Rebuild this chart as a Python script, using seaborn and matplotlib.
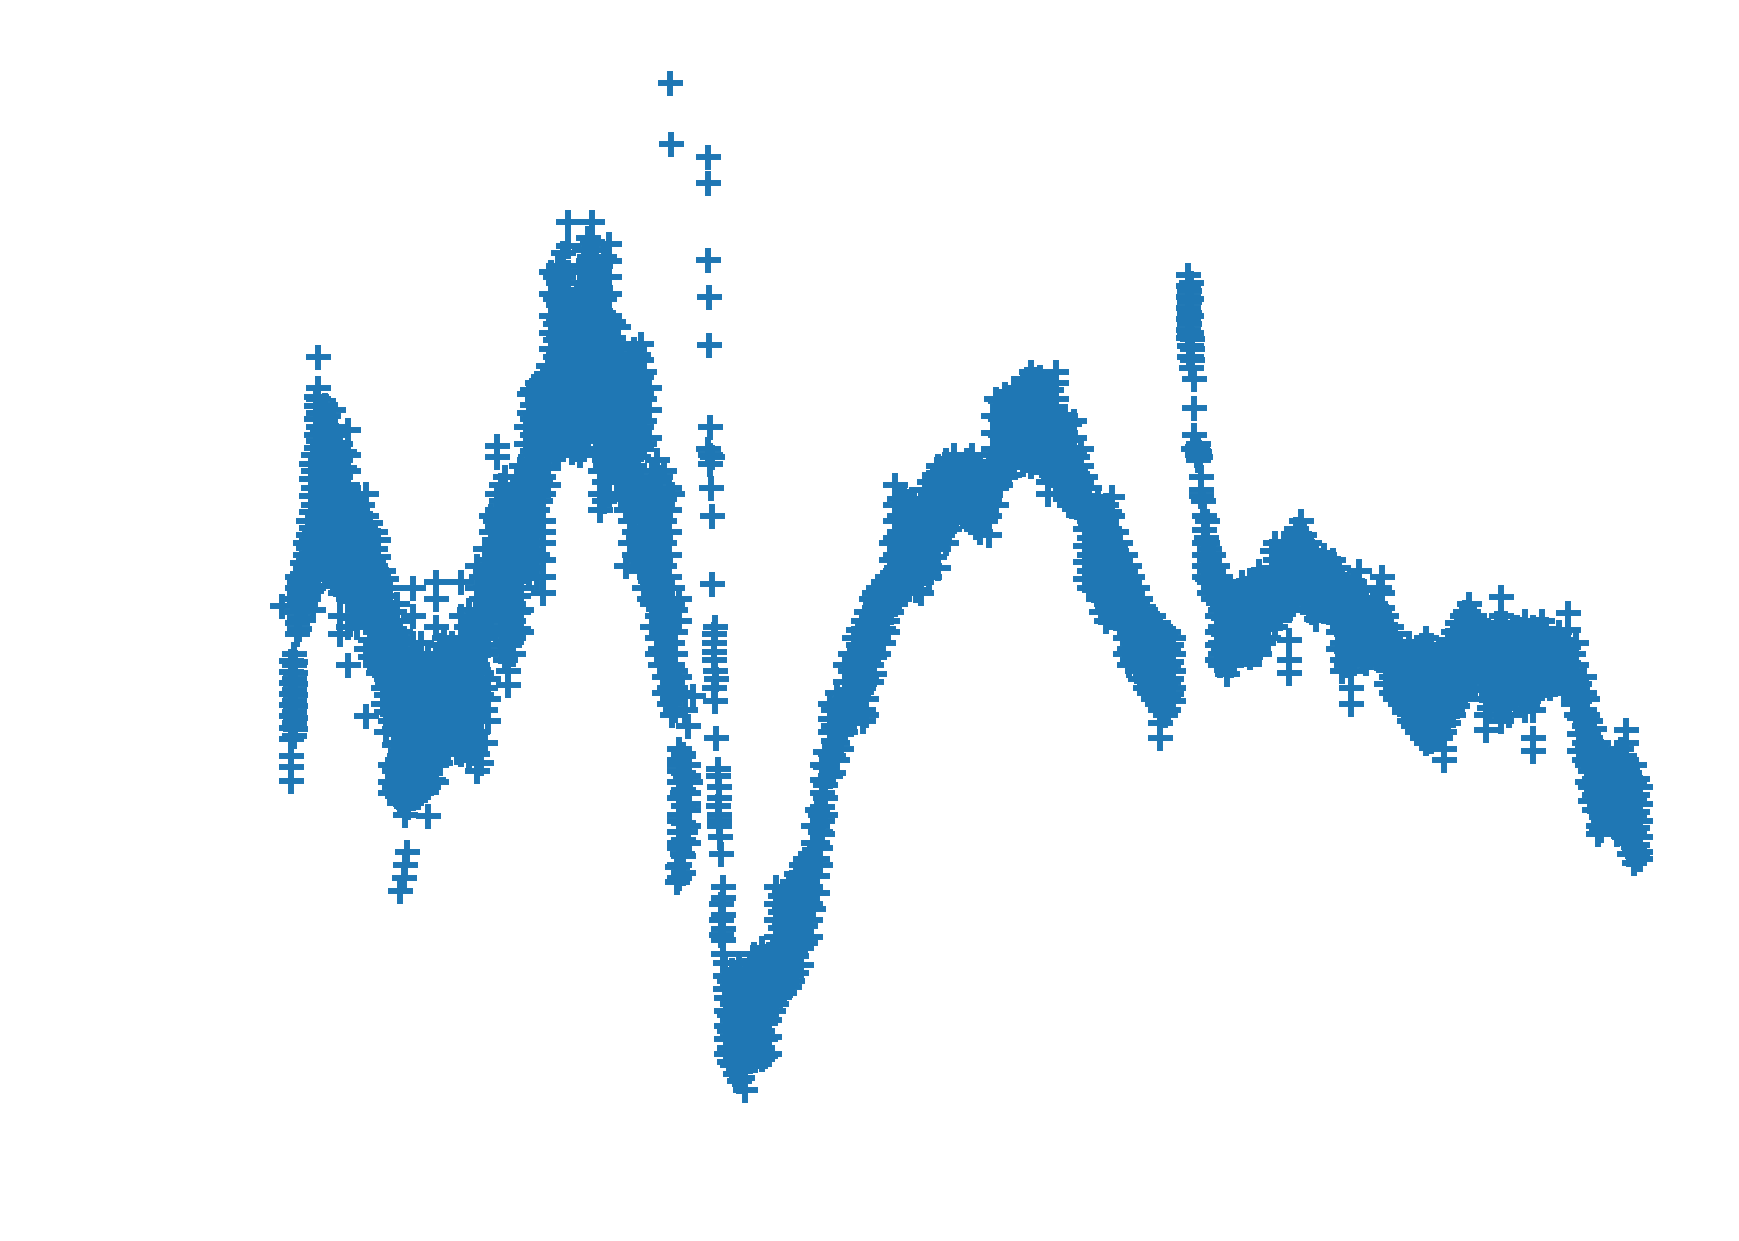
import pandas as pd
import seaborn as sns
from matplotlib import pyplot as plt

# readings, one y list per x position
top_x = [604, 605, 638, 638, 638, 639, 639, 640, 638, 640, 642, 640, 641, 642, 642, 645, 644, 644, 644, 645, 646, 647, 648, 648, 648, 648, 650]
top_y = [75, 130, 142, 165, 234, 268, 311, 385, 405, 410, 412, 418, 440, 465, 527, 565, 580, 595, 620, 632, 665, 700, 710, 720, 735, 745, 770]

drop_x = [618, 625, 620, 616, 612, 612, 618, 622, 615, 620, 612, 618, 612, 615, 610, 610, 367, 365, 364, 361, 254]
drop_y = [640, 628, 655, 680, 685, 695, 700, 705, 715, 725, 740, 750, 760, 770, 782, 795, 768, 780, 792, 803, 546]

left_x = [262, 265, 268, 272, 278, 282, 287, 293, 300, 307, 314, 322, 330, 338, 345]
left_y = [
    [596, 606, 616, 626, 636, 646, 656, 666, 682, 692, 704],
    [590, 600, 612, 622, 632, 642, 652, 664],
    [520, 530, 540, 552, 562, 572],
    [508, 518, 528, 538, 548],
    [470, 482, 494, 506, 516, 526, 540],
    [410, 425, 440, 455, 470, 485, 500, 515, 530, 550],
    [322, 350, 360, 372, 385, 398, 410, 425, 440, 455, 470, 485, 500, 515, 528],
    [365, 380, 395, 410, 425, 440, 455, 470, 485, 500, 515],
    [370, 385, 400, 415, 430, 445, 460, 475, 490, 505, 520],
    [400, 415, 430, 445, 460, 475, 490, 505, 520, 535, 555, 572],
    [388, 410, 425, 440, 455, 470, 485, 500, 520, 540, 565, 600],
    [445, 460, 475, 490, 505, 520, 535, 550, 565],
    [445, 465, 480, 495, 510, 525, 540, 560, 585, 646],
    [480, 495, 510, 525, 540, 555, 570, 585, 600],
    [515, 530, 545, 560, 575, 590, 605, 620, 635],
]
left2_x = [266, 270, 275, 280, 285, 290, 296, 303, 310, 318, 326, 334, 341, 348]
left2_y = [
    [597, 607, 617, 627, 637, 647, 657],
    [525, 535, 545, 557, 567],
    [490, 500, 512, 522, 532, 545],
    [418, 432, 447, 462, 476, 488, 500, 511, 521, 533],
    [358, 366, 378, 392, 404, 418, 432, 447, 462, 477, 492, 507, 522],
    [372, 388, 402, 417, 432, 447, 462, 477, 492, 507],
    [375, 392, 407, 422, 437, 452, 467, 482, 497, 512],
    [392, 407, 422, 437, 452, 467, 482, 497, 512, 527],
    [408, 422, 437, 452, 467, 482, 497, 512, 527],
    [452, 467, 482, 497, 512, 527, 542, 557],
    [455, 472, 487, 502, 517, 532, 550],
    [472, 487, 502, 517, 532, 547, 562, 577, 592],
    [487, 502, 517, 532, 547, 562, 577, 592, 607],
    [522, 537, 552, 567, 582, 597, 612, 627, 642, 660],
]

valley_x = [352, 358, 365, 372, 380, 386, 393, 400, 408, 416, 423, 430, 437]
valley_y = [
    [530, 545, 560, 575, 590, 605, 620, 635, 650, 690, 705, 715],
    [545, 560, 575, 590, 610, 625, 640, 655, 670, 685, 700, 718],
    [580, 595, 610, 625, 640, 655, 670, 685, 700, 715, 725, 735],
    [530, 555, 580, 600, 620, 640, 660, 675, 690, 705, 720],
    [580, 600, 620, 640, 655, 670, 685, 700, 715],
    [590, 610, 630, 650, 665, 680, 695, 710, 736],
    [525, 540, 565, 590, 610, 630, 650, 670, 690, 705],
    [575, 590, 610, 630, 650, 670, 675],
    [580, 595, 610, 625, 640, 655, 670],
    [525, 555, 575, 590, 605, 620, 635, 650, 665, 680],
    [550, 565, 580, 595, 610, 625, 640, 655, 670, 685],
    [510, 530, 550, 565, 580, 600, 620, 640, 660, 680, 695],
    [495, 515, 530, 545, 560, 575, 590, 620, 640, 670],
]
valley2_x = [355, 361, 368, 376, 383, 390, 397, 404, 412, 420, 427, 434, 440]
valley2_y = [
    [552, 567, 582, 597, 612, 627, 642, 657, 672, 695, 710],
    [570, 585, 600, 617, 632, 647, 662, 677, 692, 708, 722],
    [600, 617, 632, 647, 662, 677, 692, 707, 718, 728],
    [590, 610, 630, 648, 662, 678, 692, 708, 718],
    [600, 620, 640, 658, 672, 688, 702, 712],
    [600, 620, 640, 658, 675, 690, 703],
    [582, 600, 620, 640, 660, 678, 688],
    [585, 602, 618, 632, 648, 662, 676],
    [588, 602, 618, 632, 648, 662, 678],
    [565, 582, 598, 612, 628, 642, 658, 672],
    [558, 572, 588, 602, 618, 632, 648, 662, 678],
    [520, 540, 557, 572, 588, 607, 627, 650, 670, 688],
    [505, 522, 537, 552, 567, 582, 612, 630, 650],
]

rise_x = [443, 448, 455, 458, 463, 470, 477, 484, 490, 497, 503, 512, 520, 527, 534, 541, 549, 557, 564, 572, 578, 585, 592, 599, 606, 612]
rise_y = [
    [465, 480, 495, 510, 525, 540, 555],
    [402, 412, 445, 460, 475, 490, 505, 520, 535, 550],
    [430, 445, 460, 475, 490, 505, 520, 535, 550, 565, 580, 595],
    [605, 618],
    [440, 455, 470, 485, 500, 515, 530, 545, 560, 575, 590],
    [420, 440, 455, 470, 490, 510, 530, 550, 570],
    [355, 372, 385, 400, 415, 430, 445, 460, 475, 490, 505, 520],
    [345, 360, 380, 395, 410, 425, 445, 460, 480, 500, 520],
    [340, 355, 370, 385, 400, 415, 430, 445, 470, 480, 490, 505, 520, 535],
    [245, 265, 285, 300, 315, 330, 345, 360, 375, 390, 405],
    [240, 255, 275, 290, 305, 320, 335, 350, 365, 380, 395, 410],
    [200, 222, 245, 265, 280, 295, 310, 325, 340, 355, 370, 385, 400],
    [265, 285, 300, 315, 330, 345, 360, 375, 390, 405],
    [225, 245, 265, 285, 300, 315, 330, 345, 360, 375, 390, 405],
    [200, 218, 235, 255, 275, 295, 310, 325, 340, 355, 370, 385],
    [240, 260, 280, 300, 315, 330, 345, 360, 375, 390, 405, 425, 445, 460],
    [220, 235, 250, 265, 285, 305, 320, 335, 350, 365, 380, 395, 410, 430, 445],
    [295, 310, 325, 340, 355, 370, 385, 400, 415, 435],
    [330, 345, 360, 375, 390, 405, 420, 440, 460, 510],
    [315, 330, 345, 360, 375, 390, 405, 420, 440, 460, 480, 500],
    [310, 325, 340, 355, 370, 385, 405, 430, 450, 475, 495, 515],
    [350, 370, 395, 440, 460, 480, 500, 520, 540],
    [415, 435, 455, 475, 495, 515, 535, 555, 575, 590],
    [425, 450, 470, 490, 510, 530, 550, 570, 590, 610, 625],
    [445, 530, 545, 560, 580, 600, 615, 630, 645],
    [540, 560, 610, 625],
]
rise2_x = [446, 452, 459, 467, 474, 480, 487, 494, 500, 508, 516, 523, 530, 537, 545, 553, 560, 568, 575, 581, 588, 595, 603, 609]
rise2_y = [
    [470, 487, 502, 517, 532, 547],
    [437, 452, 467, 482, 497, 512, 527, 542, 557, 572, 587],
    [447, 462, 477, 492, 507, 522, 537, 552, 567, 582],
    [430, 447, 462, 477, 492, 507, 522, 537, 552, 567],
    [385, 400, 425, 447, 462, 480, 500, 515],
    [352, 365, 378, 392, 407, 422, 437, 452, 467, 482, 497, 512],
    [345, 352, 365, 375, 390, 405, 420, 435, 452, 470],
    [330, 348, 362, 377, 392, 407, 422, 437],
    [250, 270, 292, 307, 322, 337, 352, 367, 382, 397, 410],
    [228, 250, 268, 285, 300, 315, 330, 345, 360, 375, 390, 405],
    [270, 290, 305, 320, 335, 350, 365, 380, 395, 408],
    [240, 255, 275, 292, 307, 322, 337, 352, 367, 382, 397, 410],
    [215, 235, 255, 275, 292, 307, 322, 337, 352, 367, 382, 398],
    [225, 245, 265, 285, 302, 317, 332, 347, 362, 377, 392, 410],
    [232, 250, 270, 290, 307, 322, 337, 352, 367, 382, 397, 415, 435, 452],
    [290, 305, 320, 335, 350, 365, 380, 395, 410, 425],
    [320, 337, 352, 367, 382, 397, 412, 430, 450],
    [322, 337, 352, 367, 382, 397, 412, 430, 450, 470, 490],
    [320, 335, 350, 365, 380, 395, 412, 435, 455, 485, 505],
    [335, 360, 380, 400, 440, 450, 470, 490, 510, 530],
    [425, 445, 465, 485, 505, 525, 545, 565],
    [430, 445, 465, 485, 505, 525, 545, 565, 585, 600],
    [440, 460, 480, 500, 520, 540, 560, 580, 600, 620, 635],
    [550, 570, 590, 605, 620, 640],
]

leg_x = [612, 616, 620, 644, 645, 646, 647, 648, 649]
leg_y = [
    [675, 690, 705, 720, 735, 750, 765, 780, 792],
    [682, 697, 712, 727, 742, 757, 772, 787],
    [690, 700, 715, 730, 745, 760],
    [572, 588],
    [605],
    [612],
    [693, 727],
    [740],
    [755],
]

trough_x = [652, 655, 660, 666, 672, 680, 687, 693, 700, 707, 714, 722, 730, 737]
trough_y = [
    [800, 810, 825, 838, 848, 860],
    [900, 912, 925, 937, 950],
    [875, 890, 905, 920, 935, 950, 960],
    [868, 880, 895, 910, 925, 940, 955, 965, 975],
    [875, 890, 905, 920, 935, 950, 965, 983],
    [860, 875, 890, 905, 920, 935, 950],
    [855, 870, 885, 900, 915, 930, 945, 955],
    [860, 875, 890, 905, 920, 935, 950],
    [800, 815, 830, 845, 860, 875, 890, 905],
    [805, 820, 835, 850, 865, 880, 895],
    [795, 810, 825, 840, 855, 870, 885],
    [780, 795, 810, 825, 840, 855, 870],
    [770, 785, 800, 815, 830, 845],
    [730, 745, 760, 775, 790, 805],
]
trough2_x = [650, 654, 657, 663, 669, 676, 684, 690, 697, 703, 711, 718, 726, 733, 739]
trough2_y = [
    [815, 830, 843],
    [868, 880, 892],
    [885, 900, 915, 930, 945, 958],
    [880, 897, 912, 927, 942, 957, 968],
    [885, 902, 917, 932, 947, 962, 972],
    [868, 882, 897, 912, 927, 942, 957],
    [865, 882, 897, 912, 927, 942, 952],
    [862, 877, 892, 907, 922, 937, 952],
    [855, 868, 882, 897, 912],
    [808, 822, 837, 852, 867, 882, 897],
    [800, 815, 830, 845, 860, 875, 890],
    [788, 802, 817, 832, 847, 862, 877],
    [775, 790, 805, 820, 835, 850],
    [745, 760, 775, 790, 805, 820],
    [735, 750, 765, 780],
]

climb_x = [741, 748, 755, 762, 770, 778, 785, 792, 800, 807, 815, 822, 830, 838, 846, 853, 860, 868, 876, 884, 892]
climb_y = [
    [690, 703, 715, 728, 740, 752],
    [635, 648, 660, 680, 700],
    [625, 640, 655, 670, 685],
    [600, 615, 630, 645, 660],
    [575, 590, 605, 620, 635, 650],
    [560, 575, 590, 605, 620, 640, 650],
    [540, 555, 570, 585, 600, 615],
    [530, 545, 560, 575, 590],
    [520, 535, 548, 560, 570],
    [437, 455, 470, 485, 500, 515, 530, 545],
    [445, 460, 475, 490, 505, 520, 535],
    [450, 465, 480, 495, 510, 525],
    [450, 465, 480, 495, 510, 525, 535],
    [435, 450, 465, 480, 495, 510, 520],
    [420, 435, 450, 465, 480, 495, 512],
    [415, 430, 445, 460, 475, 490],
    [410, 425, 440, 455, 470],
    [420, 435, 450, 465],
    [410, 425, 440, 455, 470],
    [420, 435, 450, 465, 480],
    [420, 435, 450, 465, 482],
]
climb2_x = [744, 751, 758, 766, 774, 781, 788, 796, 803, 811, 818, 826, 834, 842, 849, 856, 864, 872, 880, 888, 895]
climb2_y = [
    [678, 692, 708, 720, 735],
    [640, 655, 668, 682, 697],
    [632, 648, 662, 675],
    [590, 605, 622, 638, 652],
    [568, 582, 598, 612, 628, 642],
    [552, 567, 582, 597, 612, 630, 645],
    [535, 548, 562, 577, 592, 608],
    [525, 538, 552, 567, 580],
    [490, 505, 520, 535, 552],
    [450, 465, 480, 495, 510, 525, 540],
    [452, 467, 482, 497, 512, 527],
    [458, 472, 487, 502, 517, 532],
    [442, 457, 472, 487, 502, 517],
    [428, 442, 457, 472, 487, 502],
    [422, 437, 452, 467, 482],
    [418, 432, 447, 462, 477],
    [418, 432, 447, 462],
    [415, 428, 442, 457, 468],
    [418, 432, 447, 462, 475],
    [425, 440, 455, 470],
    [375, 390, 405, 425, 440, 455],
]

hump_x = [898, 906, 914, 922, 930, 938, 945, 952, 960, 968, 975, 982, 990, 997, 1003, 1010, 1018, 1025, 1032, 1040, 1046, 1053, 1058]
hump_y = [
    [360, 375, 390, 410, 425, 440, 455],
    [355, 370, 385, 400, 415, 430],
    [350, 365, 380, 395, 410, 420],
    [345, 360, 375, 390, 405, 418],
    [335, 350, 365, 380, 395, 410, 420],
    [340, 355, 370, 385, 400, 415],
    [345, 360, 375, 390, 405, 420, 435, 445],
    [335, 345, 360, 375, 390, 405, 420, 435],
    [375, 390, 405, 420, 435, 450],
    [380, 395, 410, 425, 440, 455],
    [405, 420, 435, 450, 465],
    [440, 455, 470, 485, 500, 515, 530],
    [450, 465, 480, 495, 510, 525, 540],
    [455, 470, 485, 500, 515, 530, 545, 560],
    [448, 465, 480, 495, 510, 525, 540, 555],
    [490, 505, 520, 535, 550, 565],
    [510, 525, 540, 555, 570, 585, 600],
    [530, 545, 560, 575, 590, 605],
    [550, 565, 580, 595, 610, 620],
    [555, 570, 585, 600, 615, 630],
    [565, 580, 595, 610, 625, 640, 652, 665],
    [570, 585, 600, 615, 630, 640],
    [575, 590, 605, 620, 632],
]
hump2_x = [902, 910, 918, 926, 934, 941, 948, 956, 964, 971, 978, 986, 993, 1000, 1006, 1014, 1021, 1028, 1036, 1043, 1050, 1056]
hump2_y = [
    [362, 378, 392, 407, 422, 437],
    [358, 372, 387, 402, 415, 428],
    [352, 367, 382, 397, 412],
    [342, 357, 372, 387, 402, 415],
    [342, 357, 372, 387, 402, 417],
    [348, 362, 377, 392, 407, 422],
    [352, 367, 382, 397, 412, 428],
    [378, 392, 407, 422, 437],
    [382, 397, 412, 427, 442, 455],
    [412, 427, 442, 457],
    [430, 447, 462, 477, 492, 507, 522],
    [457, 472, 487, 502, 517, 532],
    [462, 477, 492, 507, 522, 537, 552],
    [462, 477, 492, 507, 522, 537, 552],
    [480, 497, 512, 527, 542, 557],
    [500, 515, 530, 545, 560, 575, 590],
    [520, 535, 550, 565, 580, 595],
    [540, 555, 570, 585, 600, 612],
    [558, 572, 587, 602, 617, 625],
    [562, 577, 592, 607, 622, 635],
    [572, 587, 602, 617, 632, 645],
    [582, 597, 612, 626],
]

spike_x = [1071, 1072, 1074, 1075, 1077, 1076, 1079, 1080, 1081, 1082, 1083, 1085, 1086, 1087, 1088, 1090, 1094]
spike_y = [
    [248, 258, 268, 278, 288, 298, 305],
    [262, 272, 282, 292, 303, 312, 322],
    [255, 270, 285, 300, 312, 322, 332],
    [306, 315, 325],
    [342, 368, 392],
    [405],
    [403, 410],
    [400, 407, 415],
    [408],
    [412],
    [430, 442, 447],
    [452],
    [465, 478, 490, 500, 510, 520],
    [485],
    [470, 490, 500, 510, 522],
    [495, 505, 515, 525, 535],
    [500, 515, 528, 540],
]

plateau_x = [1100, 1106, 1113, 1120, 1127, 1135, 1143, 1150, 1158, 1162, 1166, 1173, 1180, 1187, 1194, 1202, 1210, 1218, 1225, 1232, 1240, 1246]
plateau_y = [
    [520, 535, 550, 565, 580, 590, 600],
    [530, 545, 560, 575, 590, 600, 608],
    [535, 550, 565, 580, 595],
    [525, 540, 555, 570, 585],
    [525, 540, 555, 570, 585, 592],
    [515, 530, 545, 560, 575, 590],
    [520, 530, 545, 560, 575],
    [490, 505, 520, 535, 550, 565],
    [490, 505, 520, 535, 550],
    [577, 595, 607],
    [485, 500, 515, 530, 545],
    [470, 485, 500, 515, 530],
    [490, 505, 520, 535, 550],
    [500, 515, 530, 545, 558],
    [500, 515, 530, 545],
    [505, 520, 535, 550, 560],
    [520, 535, 550, 565, 580, 595, 605],
    [535, 550, 565, 580, 595, 605, 620, 635],
    [515, 530, 545, 560, 575, 590],
    [540, 555, 570, 585, 598],
    [545, 560, 575, 590],
    [520, 535, 548, 565, 580, 595],
]
plateau2_x = [1097, 1103, 1110, 1117, 1124, 1131, 1139, 1147, 1154, 1162, 1169, 1176, 1183, 1190, 1198, 1206, 1214, 1221, 1228, 1236, 1243, 1250]
plateau2_y = [
    [510, 525, 540, 555, 570, 582, 595],
    [527, 542, 557, 572, 585, 598],
    [540, 557, 572, 587, 600],
    [532, 547, 562, 577, 590],
    [532, 547, 562, 577, 590],
    [522, 537, 552, 567, 582, 590],
    [525, 537, 552, 567, 580],
    [497, 512, 527, 542, 557],
    [497, 512, 527, 542, 557],
    [490, 505, 520, 535, 550],
    [477, 492, 507, 522, 537],
    [482, 497, 512, 527, 542],
    [497, 512, 527, 542, 552],
    [505, 520, 535, 550],
    [507, 522, 537, 552],
    [512, 527, 542, 557, 570, 585],
    [527, 542, 557, 572, 587, 600],
    [525, 540, 555, 570, 585, 598],
    [532, 547, 562, 577, 592],
    [547, 562, 577, 592],
    [530, 552, 567, 582, 595],
    [555, 572, 587, 602, 617],
]

tail_x = [1254, 1262, 1270, 1278, 1286, 1294, 1302, 1310, 1318, 1325, 1333, 1340, 1346, 1353, 1361, 1368, 1375, 1382, 1390, 1398, 1406, 1414, 1421, 1428, 1434, 1441, 1448, 1455, 1462, 1466, 1473, 1479]
tail_y = [
    [565, 580, 595, 610, 625],
    [580, 595, 610, 625, 635],
    [580, 595, 610, 625, 640, 650],
    [590, 605, 620, 635, 650, 660],
    [575, 590, 605, 620, 635, 650, 662, 670],
    [590, 605, 620, 635, 650, 665],
    [585, 600, 615, 630, 645, 660, 675, 685],
    [570, 585, 600, 615, 630, 645],
    [555, 570, 585, 600, 615, 630],
    [545, 560, 575, 590, 605, 620],
    [560, 575, 590, 605],
    [570, 585, 600, 615, 630, 645, 658],
    [570, 585, 600, 615, 630],
    [538, 555, 570, 585, 600, 615, 630, 650],
    [570, 585, 600, 615, 630, 645],
    [565, 580, 595, 610, 625],
    [560, 575, 590, 605, 620, 640],
    [565, 580, 595, 610, 625, 640, 665, 677],
    [560, 575, 590, 605, 620],
    [575, 590, 605, 620],
    [570, 585, 600, 615],
    [553, 568, 583, 598, 613, 625],
    [580, 600, 615, 630, 645],
    [610, 625, 640, 655, 670, 685],
    [650, 665, 680, 695, 710, 722],
    [670, 685, 700, 715, 730, 745, 752],
    [680, 695, 710, 725, 735],
    [690, 705, 720, 735, 745],
    [675, 690, 705, 720, 735, 750],
    [658, 670, 685, 700, 715, 730, 745, 760],
    [690, 705, 720, 735, 750, 765, 778],
    [710, 725, 740, 755, 768, 775],
]
tail2_x = [1258, 1266, 1274, 1282, 1290, 1298, 1306, 1314, 1321, 1329, 1336, 1343, 1350, 1357, 1364, 1371, 1378, 1386, 1394, 1402, 1410, 1418, 1424, 1431, 1437, 1444, 1451, 1458, 1464, 1469, 1476]
tail2_y = [
    [572, 587, 602, 617, 630],
    [587, 602, 617, 632, 642],
    [587, 602, 617, 632, 647, 655],
    [582, 597, 612, 627, 642, 657, 665],
    [582, 597, 612, 627, 642, 657, 668],
    [592, 607, 622, 637, 652, 665],
    [577, 592, 607, 622, 637, 652],
    [562, 577, 592, 607, 622, 637],
    [552, 567, 582, 597, 612, 627],
    [555, 567, 582, 597, 612],
    [565, 577, 592, 607, 622],
    [577, 592, 607, 622, 638],
    [562, 577, 592, 607, 622, 638],
    [562, 577, 592, 607, 622, 638],
    [567, 582, 597, 612, 627],
    [567, 582, 597, 612, 627],
    [572, 587, 602, 617, 632],
    [567, 582, 597, 612, 627],
    [567, 582, 597, 612],
    [577, 592, 607, 617],
    [577, 592, 607, 620],
    [590, 605, 620, 635],
    [617, 632, 647, 662, 677],
    [630, 645, 660, 675, 690, 705],
    [657, 672, 687, 702, 717, 730],
    [677, 692, 707, 722, 737, 748],
    [687, 702, 717, 732, 742],
    [682, 697, 712, 727, 742, 752],
    [682, 697, 712, 727, 742, 755],
    [697, 712, 727, 742, 757, 770],
    [702, 717, 732, 747, 762, 772],
]

rows = [(x, y) for x, y in zip(top_x + drop_x, top_y + drop_y)]
for xs, ys in [(left_x, left_y), (left2_x, left2_y), (valley_x, valley_y), (valley2_x, valley2_y),
               (rise_x, rise_y), (rise2_x, rise2_y), (leg_x, leg_y), (trough_x, trough_y),
               (trough2_x, trough2_y), (climb_x, climb_y), (climb2_x, climb2_y), (hump_x, hump_y),
               (hump2_x, hump2_y), (spike_x, spike_y), (plateau_x, plateau_y), (plateau2_x, plateau2_y),
               (tail_x, tail_y), (tail2_x, tail2_y)]:
    for x, col in zip(xs, ys):
        rows.extend((x, y) for y in col)
df = pd.DataFrame(rows, columns=["x", "y"])

sns.set_style("white")
fig = plt.figure(figsize=(17.39, 12.41), dpi=100)
ax = fig.add_axes([0, 0, 1, 1])
sns.scatterplot(x="x", y="y", data=df, marker="+", s=324, linewidth=4.3, color="#1f77b4", ax=ax)
ax.set_xlim(0, 1568)
ax.set_ylim(1119, 0)
ax.axis("off")
fig.savefig("out.png", dpi=100)
